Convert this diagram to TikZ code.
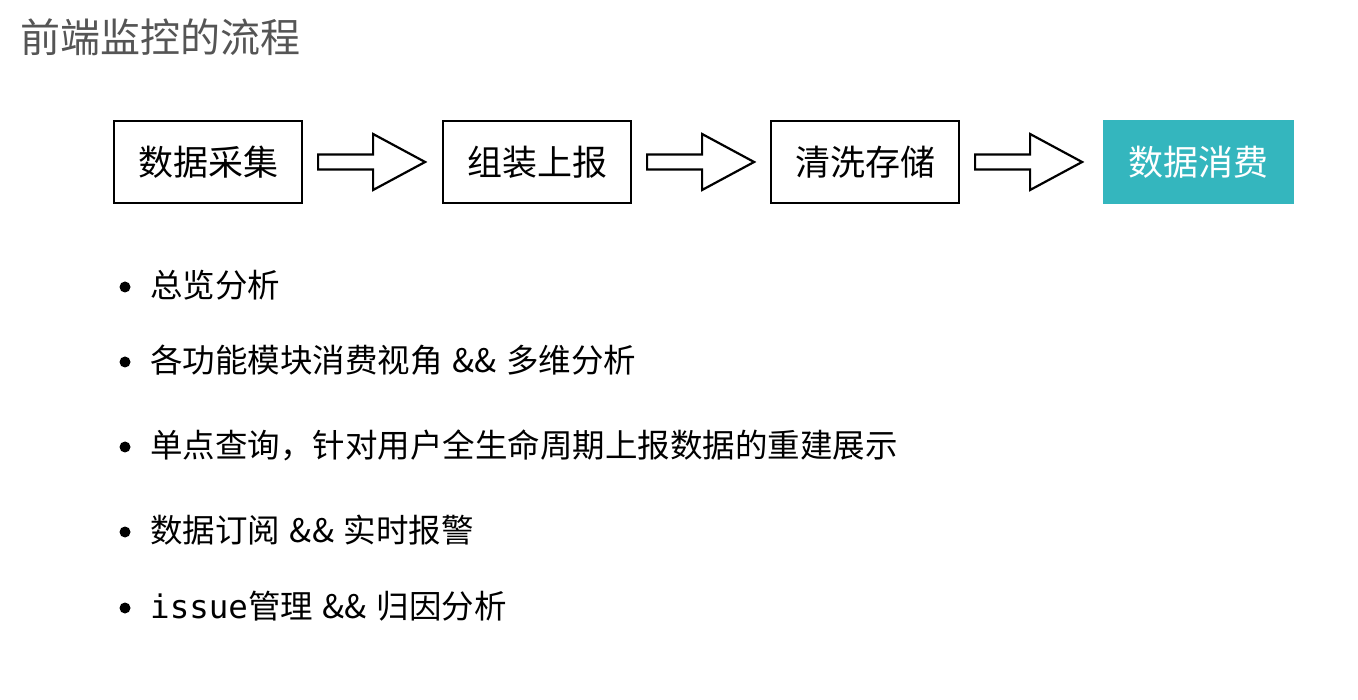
\documentclass[tikz,border=0pt]{standalone}
\usepackage{fontspec}
\setmainfont{Noto Sans CJK SC}
\setmonofont{DejaVu Sans Mono}
\usepackage{xcolor}
\usetikzlibrary{positioning,calc}
\definecolor{titlegray}{RGB}{85,85,85}
\definecolor{teal}{RGB}{52,182,190}
\newcommand\andand{\hspace{0.3em}\&\&\hspace{0.3em}}

\begin{document}
\begin{tikzpicture}[x=1pt,y=-1pt,
  stage/.style={draw=black,line width=2.2pt,minimum width=188,minimum height=82,
    inner sep=0pt,font=\fontsize{35}{42}\selectfont},
  hollow/.style={draw=black,line width=2.2pt,line join=miter,fill=white},
  dot/.style={circle,fill=black,inner sep=0pt,minimum size=11},
  item/.style={anchor=west,inner sep=0pt,font=\fontsize{32.5}{38}\selectfont}]
  \useasboundingbox (0,0) rectangle (1358,700);

  % title
  \node[anchor=west,inner sep=0pt,text=titlegray,font=\fontsize{40}{46}\selectfont]
    (title) at (20,37) {前端监控的流程};

  % pipeline stages
  \node[stage] (collect) at (208,162) {数据采集};
  \node[stage] (report)  at (537,162) {组装上报};
  \node[stage] (store)   at (865,162) {清洗存储};
  \node[stage,draw=none,fill=teal,text=white,minimum width=191,minimum height=84]
    (consume) at (1198,162) {数据消费};

  % hollow arrows between stages
  \foreach \a/\b in {collect/report,report/store,store/consume}{
    \draw[hollow] ([xshift=15]\a.east) ++(0,-7.5) -- ++(55,0) -- ++(0,-20.5)
      -- ++(52,28) -- ++(-52,28) -- ++(0,-20.5) -- ++(-55,0) -- cycle;
  }

  % consumption items
  \foreach \i/\y/\txt in {
    1/285/{总览分析},
    2/360/{各功能模块消费视角\andand 多维分析},
    3/445/{单点查询，针对用户全生命周期上报数据的重建展示},
    4/530/{数据订阅\andand 实时报警},
    5/606/{\texttt{issue}管理\andand 归因分析}}{
    \node[dot] (dot\i) at (125,\y+2) {};
    \node[item] (item\i) at (150,\y) {\txt};
  }
\end{tikzpicture}
\end{document}
